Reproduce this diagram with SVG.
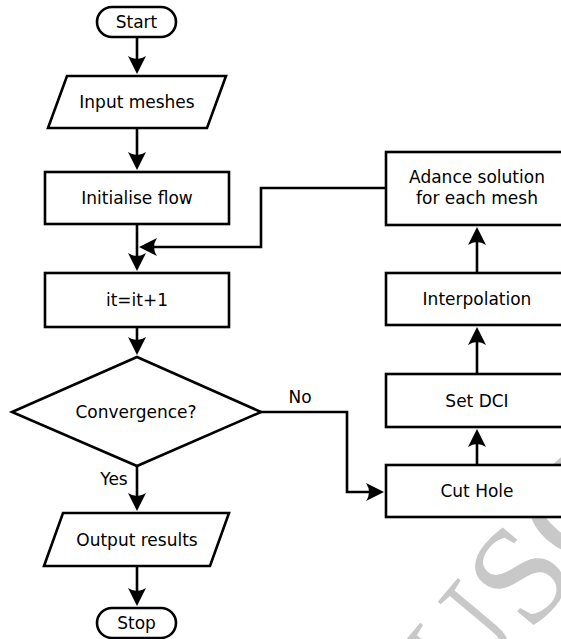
<svg xmlns="http://www.w3.org/2000/svg" width="561" height="639" viewBox="0 0 561 639">
<style>
.box{fill:#fff;stroke:#000;stroke-width:2.6}
.ln{fill:none;stroke:#000;stroke-width:2.6;marker-end:url(#ah)}
.t{font-family:"DejaVu Sans",sans-serif;font-size:17px;text-anchor:middle;fill:#000}
.wm{font-family:"Liberation Serif",serif;font-size:140px;fill:#c8c8c8}
</style>
<defs>
<marker id="ah" markerUnits="userSpaceOnUse" markerWidth="20" markerHeight="20" viewBox="0 -10 20 20" refX="8" refY="0" orient="auto">
<path d="M0,-9 L18,0 L0,9 Q6,0 0,-9 Z" fill="#000"/>
</marker>
</defs>
<rect width="561" height="639" fill="#fff"/>
<g id="watermark" transform="translate(520,575) rotate(-50)">
<text class="wm" x="-467" y="46">MANUSCRIPT</text>
</g>
<g id="connectors">
<path class="ln" d="M137,37 V64"/>
<path class="ln" d="M137,128 V160"/>
<path class="ln" d="M137,224 V261"/>
<path class="ln" d="M386,188 H261 V247 H149"/>
<path class="ln" d="M137,327 V345"/>
<path class="ln" d="M137,466 V501"/>
<path class="ln" d="M137,566 V596"/>
<path class="ln" d="M260,412 H347 V492 H374"/>
<path class="ln" d="M477,465 V439"/>
<path class="ln" d="M477,374 V337"/>
<path class="ln" d="M477,273 V237"/>
<text class="t" x="114" y="485">Yes</text>
<text class="t" x="300" y="403">No</text>
</g>
<g id="start"><rect class="box" x="97" y="7" width="79" height="30" rx="15"/><text class="t" x="136.5" y="28">Start</text></g>
<g id="input"><polygon class="box" points="67,76 226,76 207,128 48,128"/><text class="t" x="137" y="108">Input meshes</text></g>
<g id="init"><rect class="box" x="45" y="172" width="184" height="52"/><text class="t" x="137" y="204">Initialise flow</text></g>
<g id="iter"><rect class="box" x="45" y="273" width="184" height="54"/><text class="t" x="137" y="306">it=it+1</text></g>
<g id="conv"><polygon class="box" points="137,357 261,412 137,466 12,412"/><text class="t" x="136" y="418">Convergence?</text></g>
<g id="output"><polygon class="box" points="63,513 229,513 210,566 44,566"/><text class="t" x="137" y="546">Output results</text></g>
<g id="stop"><rect class="box" x="97" y="608" width="79" height="30" rx="15"/><text class="t" x="136.5" y="629">Stop</text></g>
<g id="advance"><rect class="box" x="386" y="152" width="184" height="73"/><text class="t" x="477" y="183">Adance solution</text><text class="t" x="477" y="204">for each mesh</text></g>
<g id="interp"><rect class="box" x="386" y="273" width="184" height="52"/><text class="t" x="477" y="305">Interpolation</text></g>
<g id="setdci"><rect class="box" x="386" y="374" width="184" height="53"/><text class="t" x="477" y="407">Set DCI</text></g>
<g id="cuthole"><rect class="box" x="386" y="465" width="184" height="52"/><text class="t" x="477" y="497">Cut Hole</text></g>
</svg>
